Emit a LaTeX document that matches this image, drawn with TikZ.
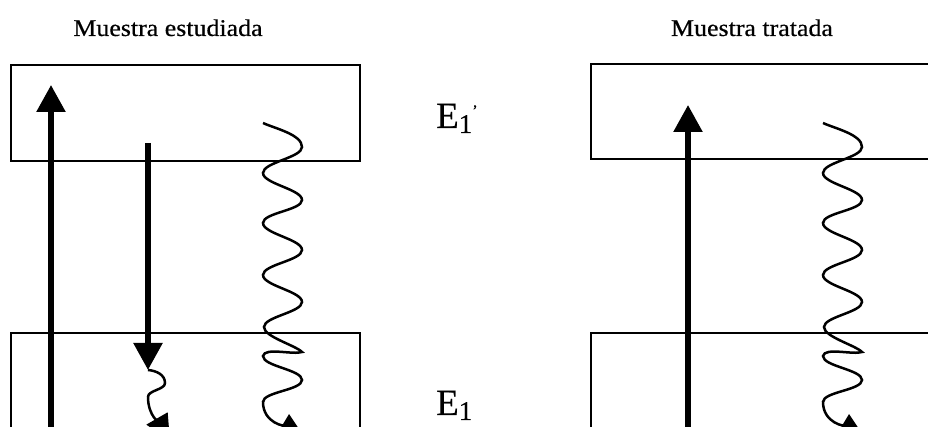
\documentclass[tikz,border=0pt]{standalone}
\usepackage{fontspec}
\setmainfont{Liberation Serif}[FakeBold=0.4]
\newfontfamily\lblfont[FakeStretch=1.08,FakeBold=0.5]{Liberation Serif}
\usetikzlibrary{arrows.meta}
\begin{document}
\begin{tikzpicture}[x=1pt,y=1pt,
  band/.style={draw=black,line width=1.9pt},
  thickarrow/.style={line width=5.5pt,-{Triangle[width=28pt,length=27pt]}},
  wave/.style={line width=2.5pt,-{Triangle[width=24pt,length=26pt]}},
  title/.style={font=\lblfont\fontsize{24}{28}\selectfont,anchor=base,inner sep=0pt},
  level/.style={font=\fontsize{37}{40}\selectfont,anchor=base west,inner sep=0pt}]
\useasboundingbox (0,0) rectangle (928,427);
\clip (0,0) rectangle (928,427);

% titles
\node[title] (t1) at (168,391) {Muestra estudiada};
\node[title] (t2) at (752,391) {Muestra tratada};

% energy level labels
\node[level] (e1p) at (436,299) {E\raisebox{-5pt}{\fontsize{27}{27}\selectfont 1}\raisebox{12pt}{\fontsize{16}{16}\selectfont ’}};
\node[level] (e1) at (436,12) {E\raisebox{-5pt}{\fontsize{27}{27}\selectfont 1}};

% bands (left panel)
\draw[band] (11,362) rectangle (360,266);
\draw[band] (11,94) rectangle (360,-20);
% bands (right panel)
\draw[band] (591,363) rectangle (945,268);
\draw[band] (591,94) rectangle (945,-20);

% coordinates
\coordinate (aS) at (51,-20);
\coordinate (aE) at (51,342);
\coordinate (dS) at (148,284);
\coordinate (dE) at (148,57);
\coordinate (bS) at (688,-20);
\coordinate (bE) at (688,322);

% straight arrows
\draw[thickarrow] (aS) -- (aE);
\draw[thickarrow] (dS) -- (dE);
\draw[thickarrow] (bS) -- (bE);

% small relaxation wave after emission
\coordinate (sEnd) at (170,-14);
\draw[wave] (dE) to[out=-5,in=90] (165,44) to[out=-90,in=90,looseness=0.8] (148,30)
  to[out=-90,in=120] (sEnd);

% big non-radiative waves (same shape in both panels)
\foreach \dx/\nm in {0/wl,560/wr}{
\begin{scope}[xshift=\dx pt]
\coordinate (\nm s) at (263,304);
\coordinate (\nm e) at (305,-11);
\draw[wave] (\nm s) to[out=-25,in=90,looseness=0.7] (302,280)
  to[out=-90,in=90,looseness=0.58] (263,254)
  to[out=-90,in=90,looseness=0.58] (302,227)
  to[out=-90,in=90,looseness=0.58] (263,204)
  to[out=-90,in=90,looseness=0.58] (302,177)
  to[out=-90,in=90,looseness=0.58] (263,152)
  to[out=-90,in=90,looseness=0.58] (302,125)
  to[out=-90,in=90,looseness=0.58] (264,100)
  to[out=-90,in=135,looseness=0.55] (302,75)
  to[out=200,in=80,looseness=0.6] (263,71)
  to[out=-90,in=90,looseness=0.58] (302,47)
  to[out=-90,in=90,looseness=0.58] (263,25)
  to[out=-90,in=149] (\nm e);
\end{scope}}
\end{tikzpicture}
\end{document}
